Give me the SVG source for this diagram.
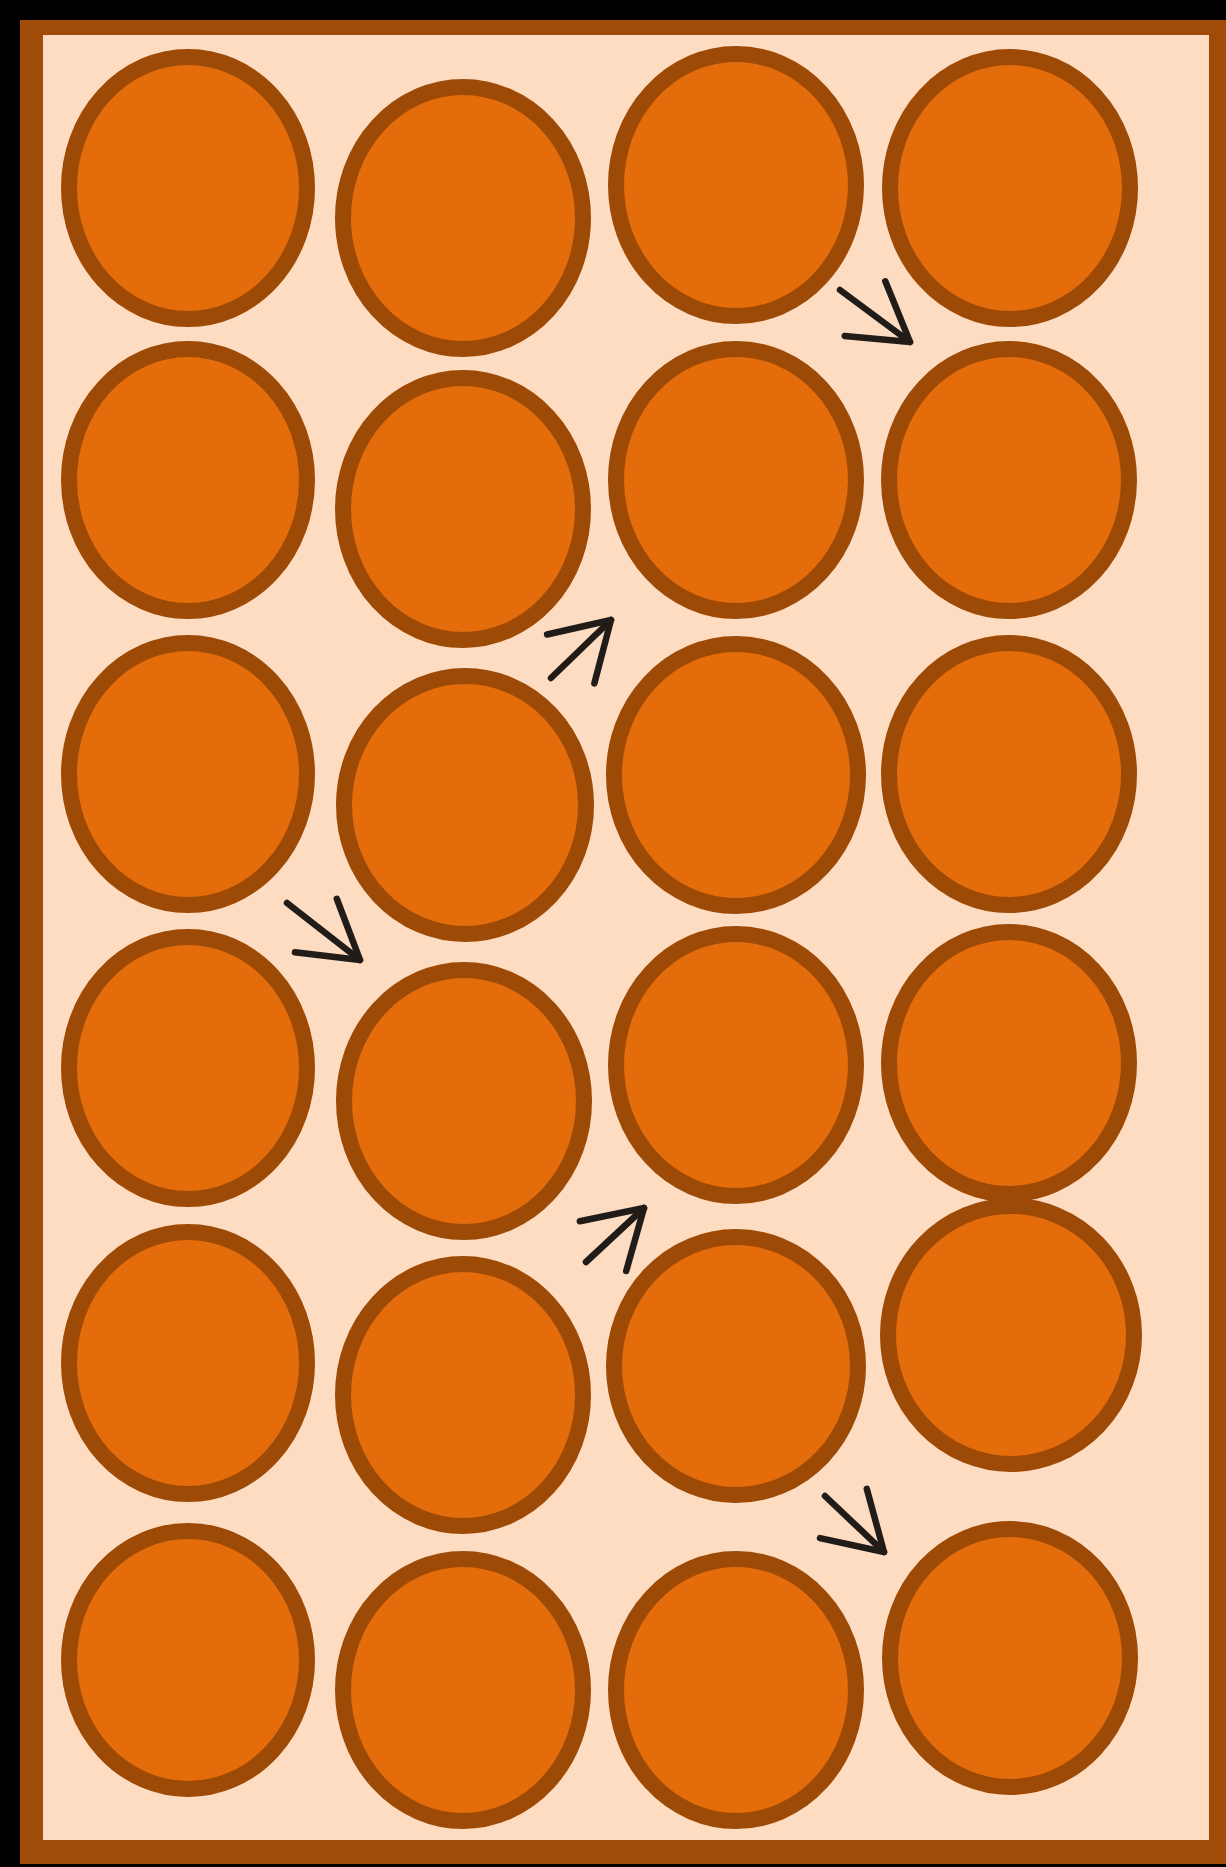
<svg xmlns="http://www.w3.org/2000/svg" width="1226" height="1867" viewBox="0 0 1226 1867">
<style>
.c{fill:#e46c0a;stroke:#9c4a06;stroke-width:16}
.a{fill:none;stroke:#221c18;stroke-width:6.5;stroke-linecap:round;stroke-linejoin:round}
</style>
<defs>
<marker id="ah" markerUnits="userSpaceOnUse" markerWidth="90" markerHeight="90" viewBox="-75 -45 90 90" refX="0" refY="0" orient="auto" overflow="visible">
<path d="M-56,-34 L0,0 L-56,34" fill="none" stroke="#221c18" stroke-width="6.5" stroke-linecap="round" stroke-linejoin="round"/>
</marker>
</defs>
<rect x="0" y="0" width="1226" height="1867" fill="#000"/>
<rect id="frame" x="20" y="20" width="1206" height="1844" fill="#a04c08"/>
<rect x="43" y="35" width="1166" height="1805" fill="#fddcc2"/>
<g id="n11"><ellipse class="c" cx="188" cy="188" rx="119" ry="131"/></g>
<g id="n12"><ellipse class="c" cx="463" cy="218" rx="120" ry="131"/></g>
<g id="n13"><ellipse class="c" cx="736" cy="185" rx="120" ry="131"/></g>
<g id="n14"><ellipse class="c" cx="1010" cy="188" rx="120" ry="131"/></g>
<g id="n21"><ellipse class="c" cx="188" cy="480" rx="119" ry="131"/></g>
<g id="n22"><ellipse class="c" cx="463" cy="509" rx="120" ry="131"/></g>
<g id="n23"><ellipse class="c" cx="736" cy="480" rx="120" ry="131"/></g>
<g id="n24"><ellipse class="c" cx="1009" cy="480" rx="120" ry="131"/></g>
<g id="n31"><ellipse class="c" cx="188" cy="774" rx="119" ry="131"/></g>
<g id="n32"><ellipse class="c" cx="465" cy="805" rx="121" ry="129"/></g>
<g id="n33"><ellipse class="c" cx="736" cy="775" rx="122" ry="131"/></g>
<g id="n34"><ellipse class="c" cx="1009" cy="774" rx="120" ry="131"/></g>
<g id="n41"><ellipse class="c" cx="188" cy="1068" rx="119" ry="131"/></g>
<g id="n42"><ellipse class="c" cx="464" cy="1101" rx="120" ry="131"/></g>
<g id="n43"><ellipse class="c" cx="736" cy="1065" rx="120" ry="131"/></g>
<g id="n44"><ellipse class="c" cx="1009" cy="1063" rx="120" ry="131"/></g>
<g id="n51"><ellipse class="c" cx="188" cy="1363" rx="119" ry="131"/></g>
<g id="n52"><ellipse class="c" cx="463" cy="1395" rx="120" ry="131"/></g>
<g id="n53"><ellipse class="c" cx="736" cy="1366" rx="122" ry="129"/></g>
<g id="n54"><ellipse class="c" cx="1011" cy="1335" rx="123" ry="129"/></g>
<g id="n61"><ellipse class="c" cx="188" cy="1660" rx="119" ry="129"/></g>
<g id="n62"><ellipse class="c" cx="463" cy="1690" rx="120" ry="131"/></g>
<g id="n63"><ellipse class="c" cx="736" cy="1690" rx="120" ry="131"/></g>
<g id="n64"><ellipse class="c" cx="1010" cy="1658" rx="120" ry="129"/></g>
<g id="connectors">
<path class="a" d="M840,290 L910,342" marker-end="url(#ah)"/>
<path class="a" d="M551,678 L611,620" marker-end="url(#ah)"/>
<path class="a" d="M287,903 L360,960" marker-end="url(#ah)"/>
<path class="a" d="M586,1262 L644,1208" marker-end="url(#ah)"/>
<path class="a" d="M825,1496 L884,1552" marker-end="url(#ah)"/>
</g>
</svg>
